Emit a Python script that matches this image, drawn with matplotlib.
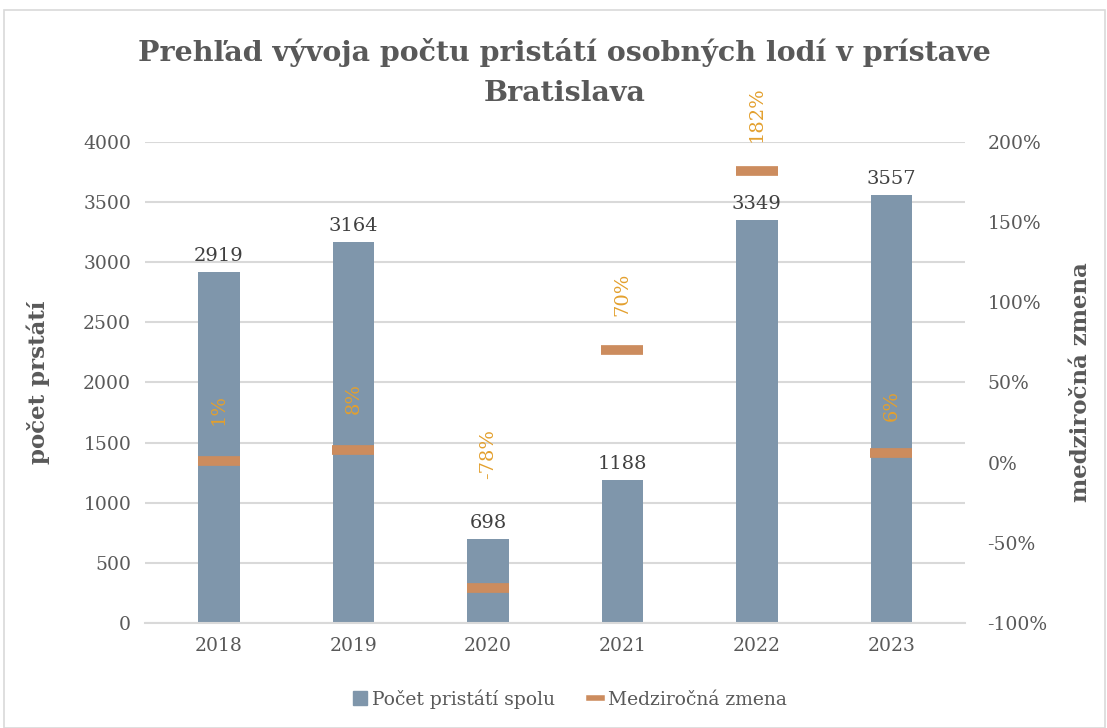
import matplotlib.pyplot as plt
import matplotlib.patches as patches
from matplotlib.lines import Line2D
import numpy as np

years = ["2018", "2019", "2020", "2021", "2022", "2023"]
arrivals = [2919, 3164, 698, 1188, 3349, 3557]
yoy_change = [0.01, 0.08, -0.78, 0.70, 1.82, 0.06]
yoy_labels = ["1%", "8%", "-78%", "70%", "182%", "6%"]

bar_color = "#7f96ab"
dash_color = "#cc8c5e"
pct_color = "#e3a02e"
text_color = "#595959"
grid_color = "#d9d9d9"

plt.rcParams["font.family"] = ["DejaVu Serif"]

fig = plt.figure(figsize=(11.07, 7.28), dpi=100)
fig.patches.append(patches.Rectangle((0.004, 0.0), 0.994, 0.986, transform=fig.transFigure,
                                     fill=False, edgecolor="#d9d9d9", linewidth=1.2))

ax = fig.add_axes([0.131, 0.1442, 0.741, 0.661])
x = np.arange(len(years))

ax.bar(x, arrivals, width=0.31, color=bar_color, zorder=2)
for xi, v in zip(x, arrivals):
    ax.annotate(str(v), (xi, v), xytext=(0, 5), textcoords="offset points",
                ha="center", va="bottom", fontsize=14, color="#404040")

ax.set_ylim(0, 4000)
ax.set_yticks(range(0, 4001, 500))
ax.set_xlim(-0.55, len(years) - 0.45)
ax.set_xticks(x)
ax.set_xticklabels(years)
ax.grid(axis="y", color=grid_color, linewidth=1.5, zorder=0)
ax.set_axisbelow(True)
for s in ["top", "right", "left"]:
    ax.spines[s].set_visible(False)
ax.spines["bottom"].set_color(grid_color)
ax.spines["bottom"].set_linewidth(1.5)
ax.tick_params(axis="both", length=0, labelsize=13.5, colors=text_color, pad=10)
ax.set_ylabel("počet prstátí", fontsize=16.5, fontweight="bold", color=text_color, labelpad=24)

ax2 = ax.twinx()
ax2.scatter(x, yoy_change, marker="_", s=900, linewidths=7, color=dash_color, zorder=3)
# Excel pushed the 2020 label above the bar value
label_offsets = [37, 37, 96, 40, 41, 34]
for xi, v, lab, off in zip(x, yoy_change, yoy_labels, label_offsets):
    ax2.annotate(lab, (xi, v), xytext=(0, off), textcoords="offset points",
                 ha="center", va="center", rotation=90, fontsize=14, color=pct_color)
ax2.set_ylim(-1.0, 2.0)
ax2.set_yticks(np.arange(-1.0, 2.01, 0.5))
ax2.set_yticklabels([f"{int(round(t * 100))}%" for t in np.arange(-1.0, 2.01, 0.5)])
for s in ["top", "right", "left", "bottom"]:
    ax2.spines[s].set_visible(False)
ax2.tick_params(axis="y", length=0, labelsize=13.5, colors=text_color, pad=16)
ax2.set_ylabel("medziročná zmena", fontsize=16.5, fontweight="bold", color=text_color, labelpad=16)

# title in two lines
fig.text(0.51, 0.928, "Prehľad vývoja počtu pristátí osobných lodí v prístave",
         ha="center", va="center", fontsize=20.5, fontweight="bold", color=text_color)
fig.text(0.51, 0.872, "Bratislava",
         ha="center", va="center", fontsize=20.5, fontweight="bold", color=text_color)

handles = [Line2D([], [], marker="s", markersize=10, linestyle="none", color=bar_color),
           Line2D([], [], color=dash_color, linewidth=4)]
fig.legend(handles, ["Počet pristátí spolu", "Medziročná zmena"], loc="center",
           bbox_to_anchor=(0.515, 0.04), ncol=2, frameon=False,
           fontsize=13.5, labelcolor=text_color, handlelength=0.7, handletextpad=0.3,
           columnspacing=1.8)

fig.savefig("out.png", dpi=100)
